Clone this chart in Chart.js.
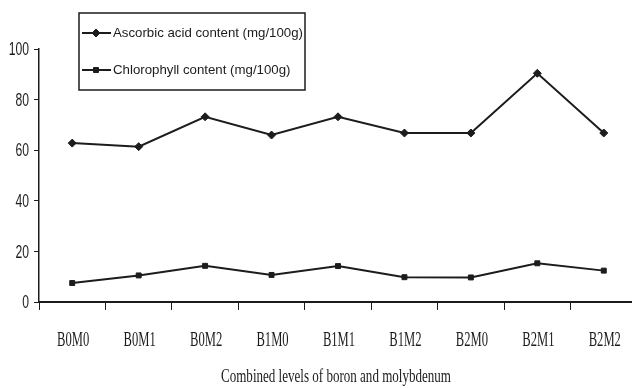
<!DOCTYPE html>
<html>
<head>
<meta charset="utf-8">
<script src="https://cdn.jsdelivr.net/npm/chart.js@4/dist/chart.umd.min.js"></script>
<style>
  html, body { margin: 0; padding: 0; background: #fff; overflow: hidden; }
  #wrap { width: 642px; height: 389px; }
</style>
</head>
<body>
<div id="wrap"><canvas id="c" width="642" height="389"></canvas></div>
<script>
// Treatment combinations (boron level x molybdenum level)
const categories = ['B0M0', 'B0M1', 'B0M2', 'B1M0', 'B1M1', 'B1M2', 'B2M0', 'B2M1', 'B2M2'];
// Ascorbic acid content (mg/100g)
const ascorbic = [62.8, 61.4, 73.2, 66.0, 73.2, 66.8, 66.8, 90.4, 66.8];
// Chlorophyll content (mg/100g)
const chlorophyll = [7.5, 10.5, 14.3, 10.7, 14.2, 9.8, 9.7, 15.3, 12.4];
// Value-axis tick labels
const yTicks = [0, 20, 40, 60, 80, 100];
const seriesNames = ['Ascorbic acid content (mg/100g)', 'Chlorophyll content (mg/100g)'];
const xTitle = 'Combined levels of boron and molybdenum';

const INK = '#1c1c1c';

// Draws condensed text: horizontally squeezed by factor sx
function squeezed(ctx, text, x, y, sx, align) {
  ctx.save();
  const w = ctx.measureText(text).width * sx;
  let left = x;
  if (align === 'center') left = x - w / 2;
  else if (align === 'right') left = x - w;
  ctx.translate(left, y);
  ctx.scale(sx, 1);
  ctx.textAlign = 'left';
  ctx.fillText(text, 0, 0);
  ctx.restore();
}

const textPlugin = {
  id: 'condensedText',
  afterDraw(chart) {
    const ctx = chart.ctx;
    const xs = chart.scales.x;
    const ys = chart.scales.y;
    ctx.save();
    ctx.fillStyle = INK;
    ctx.textBaseline = 'middle';

    // value axis labels
    ctx.font = '19px "Liberation Sans", Arial, sans-serif';
    yTicks.forEach(v => {
      squeezed(ctx, String(v), 29, ys.getPixelForValue(v) + 1, 0.64, 'right');
    });

    // category labels
    ctx.font = '21px "Liberation Serif", "Times New Roman", serif';
    categories.forEach((c, i) => {
      squeezed(ctx, c, xs.getPixelForValue(i) + 1, 340, 0.6, 'center');
    });

    // axis title
    ctx.font = '18px "Liberation Serif", "Times New Roman", serif';
    const tw = ctx.measureText(xTitle).width;
    squeezed(ctx, xTitle, (chart.chartArea.left + chart.chartArea.right) / 2 - 2, 377, 230 / tw, 'center');

    // legend box
    const bx = 79, by = 13, bw = 226, bh = 77;
    ctx.fillStyle = '#fff';
    ctx.fillRect(bx, by, bw, bh);
    ctx.strokeStyle = INK;
    ctx.lineWidth = 1.5;
    ctx.strokeRect(bx, by, bw, bh);

    ctx.font = '13px "Liberation Sans", Arial, sans-serif';
    const lw = ctx.measureText(seriesNames[0]).width;
    const lsx = 190 / lw;
    const rowsY = [33, 70];
    chart.data.datasets.forEach((ds, i) => {
      const y = rowsY[i];
      ctx.strokeStyle = ds.borderColor;
      ctx.lineWidth = ds.borderWidth;
      ctx.beginPath();
      ctx.moveTo(82, y);
      ctx.lineTo(111, y);
      ctx.stroke();
      ctx.fillStyle = ds.backgroundColor;
      ctx.lineWidth = 1;
      Chart.helpers.drawPoint(ctx, {
        pointStyle: ds.pointStyle,
        radius: ds.pointRadius,
        borderWidth: 1,
        rotation: 0
      }, 96, y);
      ctx.fillStyle = INK;
      squeezed(ctx, ds.label, 113, y, lsx, 'left');
    });
    ctx.restore();
  }
};

new Chart(document.getElementById('c'), {
  type: 'line',
  data: {
    labels: categories,
    datasets: [
      {
        label: seriesNames[0],
        data: ascorbic,
        borderColor: INK,
        backgroundColor: INK,
        borderWidth: 2,
        pointStyle: 'rectRot',
        pointRadius: 4,
        pointBorderWidth: 1,
        tension: 0
      },
      {
        label: seriesNames[1],
        data: chlorophyll,
        borderColor: INK,
        backgroundColor: INK,
        borderWidth: 2,
        pointStyle: 'rect',
        pointRadius: 3.5,
        pointBorderWidth: 1,
        tension: 0
      }
    ]
  },
  options: {
    responsive: false,
    animation: false,
    events: [],
    layout: { padding: { top: 49, right: 2, left: 0, bottom: 0 } },
    plugins: {
      legend: { display: false },
      tooltip: { enabled: false },
      title: { display: false }
    },
    scales: {
      x: {
        type: 'category',
        offset: true,
        border: { display: true, color: INK, width: 2 },
        grid: {
          offset: true,
          drawOnChartArea: false,
          drawTicks: true,
          tickLength: 8,
          color: INK,
          lineWidth: 1
        },
        ticks: { display: false },
        afterFit(scale) { scale.height = 87; }
      },
      y: {
        min: 0,
        max: 100,
        border: { display: true, color: INK, width: 1.5 },
        grid: {
          drawOnChartArea: false,
          drawTicks: true,
          tickLength: 5,
          color: INK,
          lineWidth: 1
        },
        ticks: { display: false, stepSize: 20 },
        afterFit(scale) { scale.width = 39; }
      }
    }
  },
  plugins: [textPlugin]
});
</script>
</body>
</html>
